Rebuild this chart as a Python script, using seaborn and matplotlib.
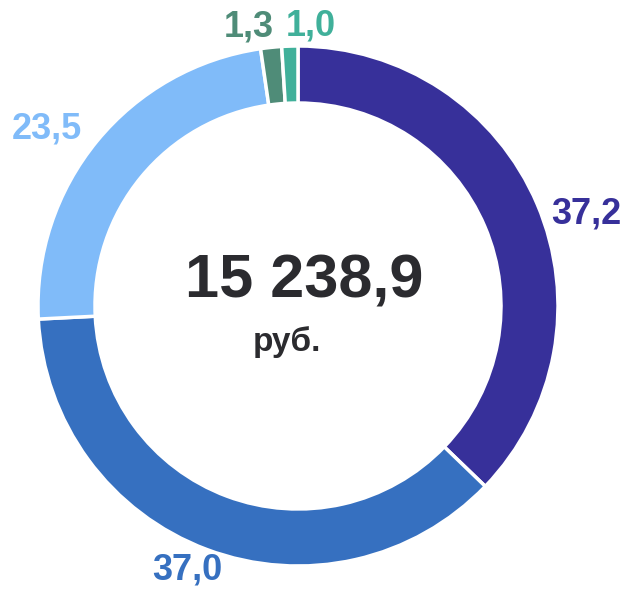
"""
    Donut chart: share of expenses, total amount in the middle.
"""
import matplotlib
matplotlib.use('Agg')
import matplotlib.pyplot as plt
import seaborn as sns
import numpy as np

# Shares, percent (clockwise from the top)
shares = [37.2, 37.0, 23.5, 1.3, 1.0]
share_labels = ['37,2', '37,0', '23,5', '1,3', '1,0']
colors = ['#37309a', '#3670c0', '#80bbf9', '#4f8c78', '#40b09a']

total_text = '15 238,9'
unit_text = 'руб.'

# label placement tweaks: radial distance and angle shift (deg)
label_dist = [1.165, 1.10, 1.18, 1.09, 1.08]
label_shift = [-5.3, -2.3, 4.2, 4, -4.5]

sns.set_theme(style="white")
plt.rcParams['font.family'] = ['Liberation Sans', 'DejaVu Sans']

fig = plt.figure(figsize=(6.31, 5.91), dpi=100)
ax = fig.add_axes([0, 0, 1, 1])

R = 260.0  # outer radius in px
cx, cy = 298.0, 591 - 306.0

wedges, _ = ax.pie(shares, colors=colors, startangle=90, counterclock=False,
                   radius=1.0,
                   wedgeprops=dict(width=57 / R, edgecolor='white',
                                   linewidth=2.5))
# pie resets the limits, so set them afterwards
ax.set_xlim(-cx / R, (631 - cx) / R)
ax.set_ylim(-cy / R, (591 - cy) / R)
ax.set_aspect('equal')
ax.axis('off')

for w, lab, c, d, s in zip(wedges, share_labels, colors, label_dist,
                           label_shift):
    ang = np.deg2rad((w.theta1 + w.theta2) / 2 + s)
    ax.text(d * np.cos(ang), d * np.sin(ang), lab, color=c,
            fontsize=26, fontweight='bold', ha='center', va='center')

ax.text(6 / R, 24 / R, total_text, color='#2b2b2f', fontsize=44,
        fontweight='bold', ha='center', va='center')
ax.text(-11 / R, -36 / R, unit_text, color='#2b2b2f', fontsize=24,
        fontweight='bold', ha='center', va='center')

fig.savefig('out.png', dpi=100)
